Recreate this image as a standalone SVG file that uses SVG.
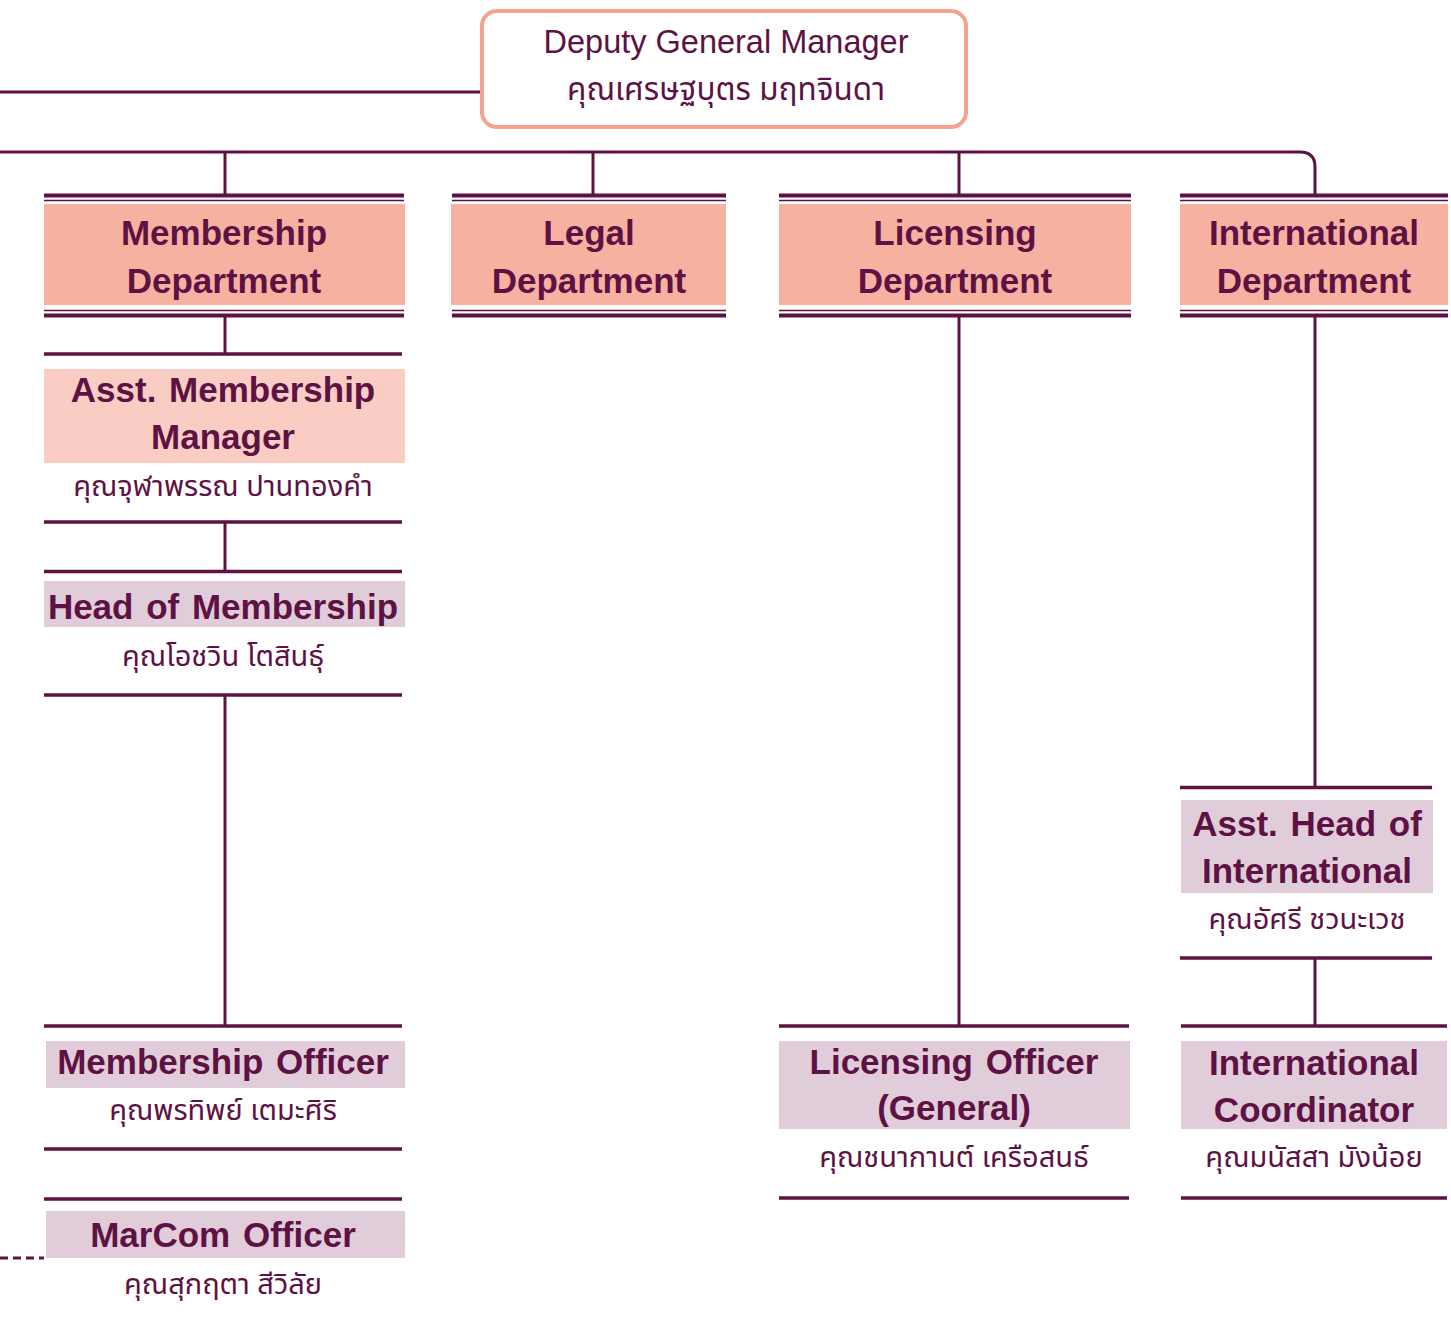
<svg xmlns="http://www.w3.org/2000/svg" width="1451" height="1317" viewBox="0 0 1451 1317">
<style>
.bg{fill:#ffffff}
.ln{stroke:#5e1244;stroke-width:3;fill:none}
.thick{stroke:#5e1244;stroke-width:4;fill:none}
.thin{stroke:#5e1244;stroke-width:1.5;fill:none}
.nl{stroke:#5e1244;stroke-width:3.5;fill:none}
.dept{fill:#f7b1a1}
.asst{fill:#f9cdc3}
.lil{fill:#e0cdd9}
.t{font-family:"Liberation Sans","Noto Sans",sans-serif;font-weight:bold;font-size:35px;fill:#5e1244;text-anchor:middle;word-spacing:3px}
.th{font-family:"Noto Sans Thai","Noto Sans","DejaVu Sans",sans-serif;font-size:29px;fill:#5e1244;text-anchor:middle}
.dg{font-family:"Liberation Sans","Noto Sans",sans-serif;font-size:32.5px;fill:#5e1244;text-anchor:middle}
</style>
<rect class="bg" x="0" y="0" width="1451" height="1317"/>
<g id="connectors">
<line class="ln" x1="0" y1="92" x2="481" y2="92"/>
<path class="ln" d="M0 152 H1300 Q1315 152 1315 167 V194"/>
<line class="ln" x1="225" y1="152" x2="225" y2="194"/>
<line class="ln" x1="593" y1="152" x2="593" y2="194"/>
<line class="ln" x1="959" y1="152" x2="959" y2="194"/>
<line class="ln" x1="225" y1="317" x2="225" y2="353"/>
<line class="ln" x1="225" y1="522" x2="225" y2="571"/>
<line class="ln" x1="225" y1="695" x2="225" y2="1026"/>
<line class="ln" x1="959" y1="317" x2="959" y2="1026"/>
<line class="ln" x1="1315" y1="317" x2="1315" y2="787"/>
<line class="ln" x1="1315" y1="958" x2="1315" y2="1026"/>
<line class="ln" x1="0" y1="1258" x2="44" y2="1258" stroke-dasharray="8 5"/>
</g>
<g id="dgm">
<rect x="482" y="11" width="484" height="116" rx="15" fill="#ffffff" stroke="#f4a38f" stroke-width="4"/>
<text class="dg" x="726" y="53">Deputy General Manager</text>
<text class="th" x="726" y="100" style="font-size:31.5px">คุณเศรษฐบุตร มฤทจินดา</text>
</g>
<g id="membership-dept">
<line class="thick" x1="44" y1="195.5" x2="404" y2="195.5"/>
<line class="thin" x1="44" y1="200.5" x2="404" y2="200.5"/>
<rect class="dept" x="44" y="204" width="361" height="101"/>
<line class="thin" x1="44" y1="310.5" x2="404" y2="310.5"/>
<line class="thick" x1="44" y1="315.5" x2="404" y2="315.5"/>
<text class="t" x="224" y="245">Membership</text>
<text class="t" x="224" y="293">Department</text>
</g>
<g id="legal-dept">
<line class="thick" x1="452" y1="195.5" x2="726" y2="195.5"/>
<line class="thin" x1="452" y1="200.5" x2="726" y2="200.5"/>
<rect class="dept" x="451" y="204" width="275" height="101"/>
<line class="thin" x1="452" y1="310.5" x2="726" y2="310.5"/>
<line class="thick" x1="452" y1="315.5" x2="726" y2="315.5"/>
<text class="t" x="589" y="245">Legal</text>
<text class="t" x="589" y="293">Department</text>
</g>
<g id="licensing-dept">
<line class="thick" x1="779" y1="195.5" x2="1131" y2="195.5"/>
<line class="thin" x1="779" y1="200.5" x2="1131" y2="200.5"/>
<rect class="dept" x="779" y="204" width="352" height="101"/>
<line class="thin" x1="779" y1="310.5" x2="1131" y2="310.5"/>
<line class="thick" x1="779" y1="315.5" x2="1131" y2="315.5"/>
<text class="t" x="955" y="245">Licensing</text>
<text class="t" x="955" y="293">Department</text>
</g>
<g id="international-dept">
<line class="thick" x1="1180" y1="195.5" x2="1448" y2="195.5"/>
<line class="thin" x1="1180" y1="200.5" x2="1448" y2="200.5"/>
<rect class="dept" x="1180" y="204" width="268" height="101"/>
<line class="thin" x1="1180" y1="310.5" x2="1448" y2="310.5"/>
<line class="thick" x1="1180" y1="315.5" x2="1448" y2="315.5"/>
<text class="t" x="1314" y="245">International</text>
<text class="t" x="1314" y="293">Department</text>
</g>
<g id="asst-membership-manager">
<line class="nl" x1="44" y1="354" x2="402" y2="354"/>
<rect class="asst" x="44" y="369" width="361" height="94"/>
<text class="t" x="223" y="402">Asst. Membership</text>
<text class="t" x="223" y="449">Manager</text>
<text class="th" x="223" y="496">คุณจุฬาพรรณ ปานทองคำ</text>
<line class="nl" x1="44" y1="522" x2="402" y2="522"/>
</g>
<g id="head-of-membership">
<line class="nl" x1="44" y1="571.5" x2="402" y2="571.5"/>
<rect class="lil" x="44" y="581" width="361" height="46"/>
<text class="t" x="223" y="619">Head of Membership</text>
<text class="th" x="223" y="666">คุณโอชวิน โตสินธุ์</text>
<line class="nl" x1="44" y1="695" x2="402" y2="695"/>
</g>
<g id="membership-officer">
<line class="nl" x1="44" y1="1026" x2="402" y2="1026"/>
<rect class="lil" x="46" y="1041" width="359" height="47"/>
<text class="t" x="223" y="1074">Membership Officer</text>
<text class="th" x="223" y="1120">คุณพรทิพย์ เตมะศิริ</text>
<line class="nl" x1="44" y1="1149" x2="402" y2="1149"/>
</g>
<g id="marcom-officer">
<line class="nl" x1="44" y1="1199" x2="402" y2="1199"/>
<rect class="lil" x="46" y="1211" width="359" height="47"/>
<text class="t" x="223" y="1247">MarCom Officer</text>
<text class="th" x="223" y="1294">คุณสุกฤตา สีวิลัย</text>
</g>
<g id="licensing-officer">
<line class="nl" x1="779" y1="1026" x2="1129" y2="1026"/>
<rect class="lil" x="779" y="1041" width="351" height="88"/>
<text class="t" x="954" y="1074">Licensing Officer</text>
<text class="t" x="954" y="1120">(General)</text>
<text class="th" x="954" y="1167">คุณชนากานต์ เครือสนธ์</text>
<line class="nl" x1="779" y1="1198" x2="1129" y2="1198"/>
</g>
<g id="asst-head-international">
<line class="nl" x1="1180" y1="787.5" x2="1432" y2="787.5"/>
<rect class="lil" x="1181" y="800" width="252" height="93"/>
<text class="t" x="1307" y="836">Asst. Head of</text>
<text class="t" x="1307" y="883">International</text>
<text class="th" x="1307" y="929">คุณอัศรี ชวนะเวช</text>
<line class="nl" x1="1180" y1="958" x2="1432" y2="958"/>
</g>
<g id="international-coordinator">
<line class="nl" x1="1181" y1="1026" x2="1447" y2="1026"/>
<rect class="lil" x="1181" y="1041" width="266" height="88"/>
<text class="t" x="1314" y="1075">International</text>
<text class="t" x="1314" y="1122">Coordinator</text>
<text class="th" x="1314" y="1167">คุณมนัสสา มังน้อย</text>
<line class="nl" x1="1181" y1="1198" x2="1447" y2="1198"/>
</g>
</svg>
